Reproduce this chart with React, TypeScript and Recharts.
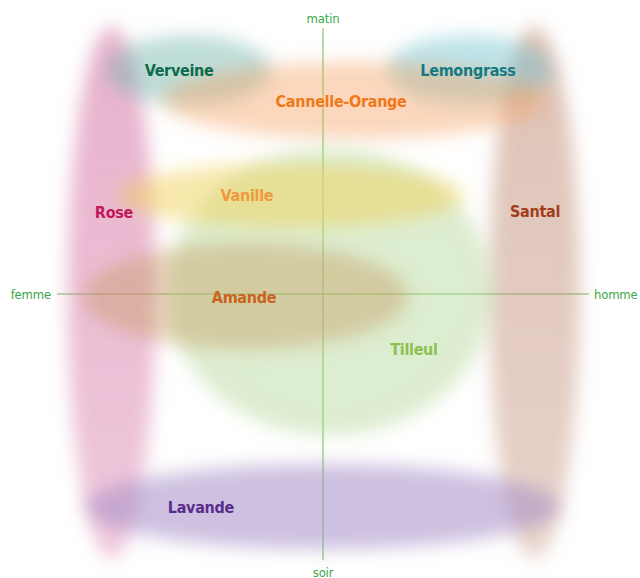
import React from "react";
import { ScatterChart, Scatter, XAxis, YAxis, ReferenceLine } from "recharts";

// Perfume notes: ellipse centre (x: femme→homme, y: soir→matin) and half-extents, in axis units (-100..100)
const names = ["Rose", "Santal", "Verveine", "Lemongrass", "Cannelle-Orange", "Tilleul", "Vanille", "Amande", "Lavande"];
const centerX = [-79.5, 79.5, -50.5, 55, 11.7, 2.6, -12, -29, 0];
const centerY = [0.5, 0.5, 84.2, 84.2, 72.8, 0.8, 37, -0.8, -80];
const radiusX = [16.5, 17, 31, 31, 72, 61, 65, 61, 89];
const radiusY = [100, 100, 13, 13, 14.5, 54, 12, 20, 16];
const fillColors = ["#d779a7", "#c08a72", "#6fb3aa", "#6cbfcc", "#f5a060", "#b3d797", "#f0d25a", "#c49a60", "#a48cc6"];
const fillOpacity = [0.55, 0.5, 0.45, 0.45, 0.42, 0.45, 0.5, 0.42, 0.55];

const labelX = [-78.6, 79.7, -54.1, 54.5, 6.8, 34.2, -28.6, -29.7, -45.9];
const labelY = [30.6, 30.9, 84.2, 84.2, 72.5, -20.8, 37, -1.5, -80.4];
const labelColors = ["#c2185b", "#a23c1a", "#0b6b4a", "#127a80", "#f07818", "#8cc050", "#f09a40", "#c8641a", "#5a2d8c"];

const axisEnds = ["femme", "homme", "soir", "matin"];

const W = 640;
const H = 578;
const M = { top: 28, right: 51, bottom: 18, left: 57 };
const pxX = (W - M.left - M.right) / 200;
const pxY = (H - M.top - M.bottom) / 200;

const blobs = names.map((n, i) => ({
  x: centerX[i],
  y: centerY[i],
  rx: radiusX[i],
  ry: radiusY[i],
  color: fillColors[i],
  op: fillOpacity[i],
  idx: i,
}));

const labels = names.map((n, i) => ({ x: labelX[i], y: labelY[i], name: n, color: labelColors[i] }));

const axisPts = [
  { x: -100, y: 0, t: axisEnds[0], a: "end" },
  { x: 100, y: 0, t: axisEnds[1], a: "start" },
  { x: 0, y: -100, t: axisEnds[2], a: "middle" },
  { x: 0, y: 100, t: axisEnds[3], a: "middle" },
];

const FONT = "'DejaVu Sans Condensed', 'Liberation Sans Narrow', sans-serif";

const Blob = (props: any) => {
  const { cx, cy, payload } = props;
  const id = `blur${payload.idx}`;
  const gid = `grad${payload.idx}`;
  const vertical = payload.ry > 60;
  return (
    <g>
      <defs>
        <filter id={id} x="-60%" y="-60%" width="220%" height="220%">
          <feGaussianBlur stdDeviation={9} />
        </filter>
        <linearGradient id={gid} x1="0" y1="0" x2="0" y2="1">
          <stop offset="0" stopColor={payload.color} stopOpacity={vertical ? payload.op * 1.05 : payload.op} />
          <stop offset="1" stopColor={payload.color} stopOpacity={vertical ? payload.op * 0.75 : payload.op} />
        </linearGradient>
      </defs>
      <ellipse
        cx={cx}
        cy={cy}
        rx={payload.rx * pxX}
        ry={payload.ry * pxY}
        fill={`url(#${gid})`}
        filter={`url(#${id})`}
      />
    </g>
  );
};

const Label = (props: any) => {
  const { cx, cy, payload } = props;
  return (
    <text
      x={cx}
      y={cy}
      textAnchor="middle"
      dominantBaseline="central"
      fill={payload.color}
      fontFamily={FONT}
      fontWeight="bold"
      fontSize={16}
      letterSpacing={-0.3}
    >
      {payload.name}
    </text>
  );
};

const AxisText = (props: any) => {
  const { cx, cy, payload } = props;
  const dx = payload.a === "end" ? -6 : payload.a === "start" ? 5 : 0;
  const dy = payload.y > 0 ? -10 : payload.y < 0 ? 12 : 0;
  return (
    <text
      x={cx + dx}
      y={cy + dy}
      textAnchor={payload.a}
      dominantBaseline="central"
      fill="#3aa84a"
      fontFamily={FONT}
      fontSize={13}
      letterSpacing={-0.2}
    >
      {payload.t}
    </text>
  );
};

export default function App() {
  return (
    <div style={{ position: "absolute", left: 0, top: 0, width: W, height: H, background: "#fff" }}>
      <ScatterChart width={W} height={H} margin={M}>
        <XAxis type="number" dataKey="x" domain={[-100, 100]} hide />
        <YAxis type="number" dataKey="y" domain={[-100, 100]} hide />
        <Scatter data={blobs} shape={<Blob />} isAnimationActive={false} />
        <ReferenceLine x={0} stroke="#7cc06a" strokeOpacity={0.75} strokeWidth={1.5} ifOverflow="extendDomain" />
        <ReferenceLine y={0} stroke="#7cc06a" strokeOpacity={0.75} strokeWidth={1.5} ifOverflow="extendDomain" />
        <Scatter data={labels} shape={<Label />} isAnimationActive={false} />
        <Scatter data={axisPts} shape={<AxisText />} isAnimationActive={false} />
      </ScatterChart>
    </div>
  );
}
